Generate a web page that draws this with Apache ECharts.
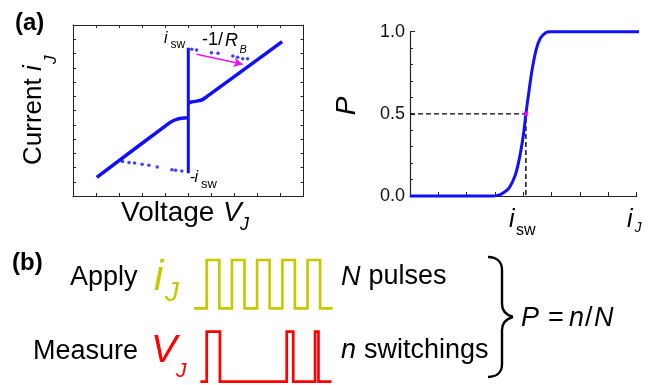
<!DOCTYPE html>
<html>
<head>
<meta charset="utf-8">
<script src="https://cdn.jsdelivr.net/npm/echarts@6/dist/echarts.min.js"></script>
<style>html,body{margin:0;padding:0;background:#fff}#c{width:665px;height:385px}</style>
</head>
<body>
<div id="c"></div>
<script>
// ---------- (a) left: I-V curve (arbitrary units) ----------
const vertV = [0, 0];
const vertI = [-4.41, 4.41];
const rightBranchV = [0, 0.1, 0.3, 0.5, 0.65, 0.8, 4.07];
const rightBranchI = [0.52, 0.58, 0.64, 0.7, 0.8, 0.97, 4.83];
const leftBranchV = [0, -0.15, -0.35, -0.5, -0.64, -0.8, -3.97];
const leftBranchI = [-0.5, -0.52, -0.56, -0.62, -0.7, -0.85, -4.69];
const dotTopV = [0.15, 0.36, 1.0, 1.29, 1.93, 2.14, 2.36, 2.57];
const dotTopI = [4.29, 4.25, 4.06, 4.01, 3.82, 3.73, 3.64, 3.64];
const dotBotV = [-2.85, -2.57, -2.33, -2.0, -1.71, -1.35, -0.71, -0.55, -0.28];
const dotBotI = [-3.58, -3.65, -3.68, -3.77, -3.84, -3.96, -4.15, -4.2, -4.25];
const arrowV = [0.36, 2.36];
const arrowI = [3.94, 3.25];

// ---------- (a) right: switching probability ----------
const probI = [0, 2.9, 3.1, 3.3, 3.5, 3.7, 3.85, 4.0, 4.09, 4.2, 4.3, 4.45, 4.6, 4.8, 4.95, 8.2];
const probP = [0, 0, 0.004, 0.02, 0.05, 0.12, 0.22, 0.37, 0.5, 0.64, 0.76, 0.89, 0.96, 0.995, 1, 1];
const iswValue = 4.09;
const pHalf = 0.5;
const yTickLabels = ['0.0', '0.5', '1.0'];

// ---------- (b) pulse trains ----------
const applyT = [0, 1, 1, 2, 2, 3, 3, 4, 4, 5, 5, 6, 6, 7, 7, 8, 8, 9, 9, 10, 10, 11];
const applyL = [0, 0, 1, 1, 0, 0, 1, 1, 0, 0, 1, 1, 0, 0, 1, 1, 0, 0, 1, 1, 0, 0];
const measT = [0.5, 1, 1, 2.05, 2.05, 7.35, 7.35, 7.87, 7.87, 9.6, 9.6, 9.87, 9.87, 10.9];
const measL = [0, 0, 1, 1, 0, 0, 1, 1, 0, 0, 1, 1, 0, 0];

const zip = (a, b) => a.map((v, i) => [v, b[i]]);
const FF = '"Liberation Sans", Arial, sans-serif';
const BLUE = '#1010ff';
const AX = '#222';

function T(x, y, text, size, opts) {
  opts = opts || {};
  const font = (opts.italic ? 'italic ' : '') + (opts.bold ? 'bold ' : '') + size + 'px ' + FF;
  return {
    type: 'text', x: x, y: y, z: 100,
    rotation: opts.rot || 0,
    style: {
      text: text, font: font, fill: opts.color || '#000',
      align: opts.align || 'left', verticalAlign: 'middle',
      textAlign: opts.align || 'left', textVerticalAlign: 'middle'
    }
  };
}
const braceStyle = {stroke: '#000', lineWidth: 2.4, fill: 'none'};
function B(x1, y1, c1x, c1y, c2x, c2y, x2, y2) {
  return {type: 'bezierCurve', z: 100, shape: {x1: x1, y1: y1, cpx1: c1x, cpy1: c1y, cpx2: c2x, cpy2: c2y, x2: x2, y2: y2}, style: braceStyle};
}
function L(x1, y1, x2, y2) {
  return {type: 'line', z: 100, shape: {x1: x1, y1: y1, x2: x2, y2: y2}, style: braceStyle};
}

const graphics = [
  T(15, 23, '(a)', 24, {bold: true}),
  T(12, 263, '(b)', 24, {bold: true}),
  // left axis titles
  T(34, 165, 'Current ', 26, {rot: Math.PI / 2}),
  T(34, 71, 'i', 26, {rot: Math.PI / 2, italic: true}),
  T(51, 64, 'J', 17, {rot: Math.PI / 2, italic: true}),
  T(121, 213, 'Voltage', 28),
  T(223, 213, 'V', 28, {italic: true}),
  T(240, 225, 'J', 18, {italic: true}),
  // annotations left
  T(164, 38.5, 'i', 16, {italic: true}),
  T(170.5, 45, 'sw', 12),
  T(202, 40.5, '-1/', 18),
  T(225, 40.5, 'R', 18, {italic: true}),
  T(239.5, 49.5, 'B', 11, {italic: true}),
  T(190, 177.5, '-', 16),
  T(194.5, 177.5, 'i', 16, {italic: true}),
  T(201, 184.5, 'sw', 13),
  // right panel
  T(347, 106, 'P', 28, {rot: Math.PI / 2, italic: true, align: 'center'}),
  T(509, 220, 'i', 25, {italic: true}),
  T(516, 231, 'sw', 16),
  T(627, 220, 'i', 25, {italic: true}),
  T(634.5, 228.5, 'J', 14, {italic: true}),
  // (b)
  T(70, 277.5, 'Apply', 27),
  T(154, 278, 'i', 42, {italic: true, color: '#c8c800'}),
  T(165, 293, 'J', 28, {italic: true, color: '#c8c800'}),
  T(341, 277, 'N', 27, {italic: true}),
  T(368.5, 277, 'pulses', 27),
  T(33, 352, 'Measure', 27),
  T(151, 351, 'V', 39, {italic: true, color: '#ff0000'}),
  T(176, 371, 'J', 21, {italic: true, color: '#ff0000'}),
  T(341, 350.5, 'n', 27, {italic: true}),
  T(364, 350.5, 'switchings', 27),
  T(521, 318.5, 'P', 27, {italic: true}),
  T(548, 318.5, '=', 27),
  T(569, 318.5, 'n', 27, {italic: true}),
  T(585, 318.5, '/', 27),
  T(594, 318.5, 'N', 27, {italic: true}),
  B(488, 257, 497, 257, 502, 262, 502, 270),
  L(502, 270, 502, 304),
  B(502, 304, 502, 311, 506, 315, 513, 317),
  B(513, 317, 506, 319, 502, 323, 502, 330),
  L(502, 330, 502, 364),
  B(502, 364, 502, 372, 497, 377, 488, 377)
];

const frameAxis = (gridIndex, pos, min, max) => ({
  type: 'value', gridIndex: gridIndex, position: pos, min: min, max: max, interval: 1,
  axisLine: {show: true, onZero: false, lineStyle: {color: AX, width: 1}},
  axisTick: {show: true, inside: true, length: 3, lineStyle: {color: AX}},
  axisLabel: {show: false}, splitLine: {show: false}
});
const hiddenAxis = (gridIndex, min, max) => ({
  type: 'value', gridIndex: gridIndex, min: min, max: max, show: false,
  splitLine: {show: false}
});

const option = {
  animation: false,
  backgroundColor: '#fff',
  grid: [
    {left: 73, top: 25, width: 230.6, height: 171},
    {left: 410, top: 31.7, width: 226.7, height: 164.3},
    {left: 194.1, top: 260, width: 138.6, height: 48.3},
    {left: 194.1, top: 331.7, width: 138.6, height: 50}
  ],
  xAxis: [
    frameAxis(0, 'bottom', -5, 5),
    frameAxis(0, 'top', -5, 5),
    {
      type: 'value', gridIndex: 1, min: 0, max: 8, interval: 1,
      axisLine: {show: true, onZero: false, lineStyle: {color: AX, width: 1.2}},
      axisTick: {show: true, inside: true, length: 4, lineStyle: {color: AX}},
      axisLabel: {show: false}, splitLine: {show: false}
    },
    hiddenAxis(2, 0, 11),
    hiddenAxis(3, 0, 11)
  ],
  yAxis: [
    frameAxis(0, 'left', -6, 6),
    frameAxis(0, 'right', -6, 6),
    {
      type: 'value', gridIndex: 1, min: 0, max: 1, interval: 0.5,
      axisLine: {show: true, onZero: false, lineStyle: {color: AX, width: 1.2}},
      axisTick: {show: true, inside: true, length: 5, lineStyle: {color: AX}},
      minorTick: {show: true, splitNumber: 5, length: 3, lineStyle: {color: AX}},
      axisLabel: {
        show: true, margin: 5, fontSize: 18, fontFamily: FF, color: '#111',
        formatter: v => yTickLabels[Math.round(v / 0.5)]
      },
      splitLine: {show: false}
    },
    hiddenAxis(2, 0, 1),
    hiddenAxis(3, 0, 1)
  ],
  graphic: graphics,
  series: [
    {type: 'line', xAxisIndex: 0, yAxisIndex: 0, data: zip(vertV, vertI), symbol: 'none',
     lineStyle: {color: BLUE, width: 3}},
    {type: 'line', xAxisIndex: 0, yAxisIndex: 0, data: zip(rightBranchV, rightBranchI), symbol: 'none',
     smooth: 0.3, lineStyle: {color: BLUE, width: 3.5},
     markLine: {
       silent: true, symbol: ['none', 'arrow'], symbolSize: [7, 9], animation: false,
       label: {show: false},
       lineStyle: {color: '#f010f0', width: 1.5, type: 'solid'},
       data: [[{coord: [arrowV[0], arrowI[0]]}, {coord: [arrowV[1], arrowI[1]]}]]
     }},
    {type: 'line', xAxisIndex: 0, yAxisIndex: 0, data: zip(leftBranchV, leftBranchI), symbol: 'none',
     smooth: 0.3, lineStyle: {color: BLUE, width: 3.5}},
    {type: 'scatter', xAxisIndex: 0, yAxisIndex: 0, data: zip(dotTopV, dotTopI), symbolSize: 3.5,
     itemStyle: {color: BLUE}},
    {type: 'scatter', xAxisIndex: 0, yAxisIndex: 0, data: zip(dotBotV, dotBotI), symbolSize: 3.5,
     itemStyle: {color: BLUE}},
    // right panel
    {type: 'line', xAxisIndex: 2, yAxisIndex: 2, z: 1,
     data: [[0, pHalf], [iswValue, pHalf], [iswValue, 0]], symbol: 'none',
     lineStyle: {color: '#000', width: 1.4, type: [5, 3]}},
    {type: 'line', xAxisIndex: 2, yAxisIndex: 2, z: 3, data: zip(probI, probP), symbol: 'none',
     smooth: 0.25, clip: false, lineStyle: {color: BLUE, width: 3}},
    {type: 'scatter', xAxisIndex: 2, yAxisIndex: 2, z: 5, data: [[iswValue, pHalf]], symbolSize: 5,
     itemStyle: {color: '#ff00ff'}},
    // (b) pulses
    {type: 'line', xAxisIndex: 3, yAxisIndex: 3, data: zip(applyT, applyL), symbol: 'none', clip: false,
     lineStyle: {color: '#c8c800', width: 2.7, join: 'miter'}},
    {type: 'line', xAxisIndex: 4, yAxisIndex: 4, data: zip(measT, measL), symbol: 'none', clip: false,
     lineStyle: {color: '#ff0000', width: 2.7, join: 'miter'}}
  ]
};

const chart = echarts.init(document.getElementById('c'), null, {renderer: 'canvas'});
chart.setOption(option);
</script>
</body>
</html>
